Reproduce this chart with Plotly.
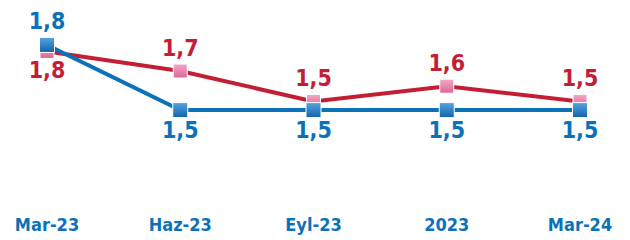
import plotly.graph_objects as go

categories = ["Mar-23", "Haz-23", "Eyl-23", "2023", "Mar-24"]
blue_values = [1.8, 1.5, 1.5, 1.5, 1.5]
red_values = [1.77, 1.68, 1.54, 1.61, 1.54]
blue_textpos = ["top center", "bottom center", "bottom center", "bottom center", "bottom center"]
red_textpos = ["bottom center", "top center", "top center", "top center", "top center"]

BLUE = "#0B72B9"
RED = "#C41E35"
FONT = "DejaVu Sans Condensed, Liberation Sans Narrow, sans-serif"

fig = go.Figure()
fig.add_trace(go.Scatter(
    x=categories, y=red_values, mode="lines+markers+text",
    line=dict(color=RED, width=4),
    marker=dict(symbol="square", size=14, color="#F2A8C8",
                gradient=dict(type="vertical", color="#DA6794"),
                line=dict(color="white", width=1)),
    texttemplate="%{y:.1f}", textposition=red_textpos,
    textfont=dict(family=FONT, size=23, color=RED, weight="bold"),
    cliponaxis=False, showlegend=False,
))
fig.add_trace(go.Scatter(
    x=categories, y=blue_values, mode="lines+markers+text",
    line=dict(color=BLUE, width=4),
    marker=dict(symbol="square", size=15, color="#55A5E4",
                gradient=dict(type="vertical", color="#1462A8"),
                line=dict(color="white", width=1)),
    texttemplate="%{y:.1f}", textposition=blue_textpos,
    textfont=dict(family=FONT, size=23, color=BLUE, weight="bold"),
    cliponaxis=False, showlegend=False,
))

fig.update_layout(
    width=630, height=240,
    margin=dict(l=39, r=58, t=2, b=58, autoexpand=False),
    paper_bgcolor="white", plot_bgcolor="white",
    separators=",.",
    xaxis=dict(type="category", range=[0, 4], showgrid=False, zeroline=False,
               showline=False, ticks="outside", ticklen=18, automargin=False,
               tickcolor="rgba(0,0,0,0)",
               tickfont=dict(family=FONT, size=18, color=BLUE, weight="bold")),
    yaxis=dict(range=[1.132, 1.961], visible=False, automargin=False),
)

fig.write_html("out.html")
